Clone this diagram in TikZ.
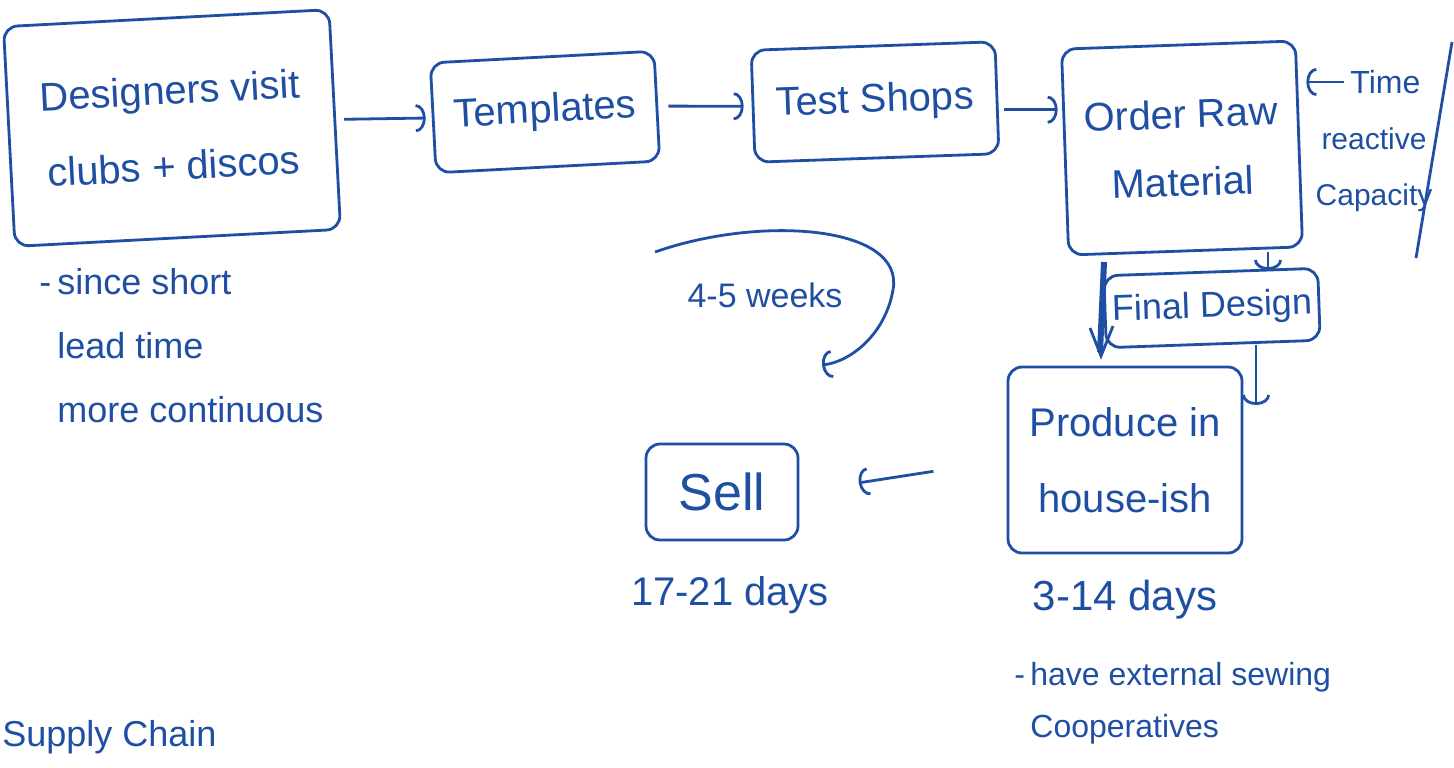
\documentclass[tikz,border=0pt]{standalone}
\usepackage{fontspec}
\setmainfont{Liberation Sans}
\usepackage{tikz}
\usetikzlibrary{positioning, calc, arrows.meta}
\definecolor{InkBlue}{HTML}{1F4FA3}

\begin{document}
\begin{tikzpicture}[x=0.5pt, y=-0.5pt,
  ink/.style={InkBlue, line width=1.4pt},
  stage/.style={ink, draw, rounded corners=7pt, align=center, inner sep=0pt,
    font=\fontsize{20}{38}\selectfont},
  note/.style={InkBlue, align=left, inner sep=0pt, font=\fontsize{18}{32}\selectfont},
  arr/.style={ink, -{Arc Barb[length=5pt, width=14pt]}}]
  \useasboundingbox[fill=white] (0,0) rectangle (1454,767);

  % main flow of stages
  \node[stage, minimum width=163pt, minimum height=110pt, rotate=3] (designers) at (172,128)
    {Designers visit\\clubs + discos};
  \node[stage, minimum width=112pt, minimum height=55pt, rotate=3] (templates) at (545,112) {Templates};
  \node[stage, minimum width=122pt, minimum height=56pt, rotate=2] (testshops) at (875,102) {Test Shops};
  \node[stage, minimum width=117pt, minimum height=103pt, rotate=2,
    font=\fontsize{20}{34}\selectfont] (order) at (1182,148) {Order Raw\\Material};
  \node[stage, minimum width=107pt, minimum height=36pt, rotate=2,
    font=\fontsize{18}{22}\selectfont] (final) at (1212,308) {Final Design};
  \node[stage, minimum width=117pt, minimum height=93pt] (produce) at (1125,460) {Produce in\\house-ish};
  \node[stage, minimum width=76pt, minimum height=48pt, font=\fontsize{26}{30}\selectfont] (sell) at (722,492) {Sell};

  % notes beside the stages
  \node[note, anchor=north west] (leadnote) at (57,268) {\llap{-\,}since short\\lead time\\more continuous};
  \node[note, font=\fontsize{16}{20}\selectfont, anchor=west] (captime) at (1350,82) {Time};
  \node[note, align=center, font=\fontsize{15}{28}\selectfont] (capacity) at (1374,170) {reactive\\Capacity};
  \node[note, font=\fontsize{17}{20}\selectfont] (weeks) at (765,295) {4-5 weeks};
  \node[note, font=\fontsize{21}{24}\selectfont] (proddays) at (1125,600) {3-14 days};
  \node[note, font=\fontsize{16}{26}\selectfont, anchor=north west] (sewing) at (1030,662)
    {\llap{-\,}have external sewing\\Cooperatives};
  \node[note, font=\fontsize{20}{24}\selectfont] (selldays) at (730,595) {17-21 days};
  \node[note, font=\fontsize{18}{22}\selectfont, anchor=west] (title) at (2,737) {Supply Chain};

  % slash after Time
  \draw[ink] (1452,42) -- (1416,258);

  % arrows between stages
  \draw[arr, shorten <=4pt, shorten >=3pt] (designers.east) -- (templates.west);
  \draw[arr, shorten <=5pt, shorten >=4pt] (templates.east) -- (testshops.west);
  \draw[arr, shorten <=3pt, shorten >=3pt] ([yshift=-6pt]testshops.east) -- ([yshift=-6pt]testshops.east -| order.west);
  \draw[arr, shorten <=3pt, shorten >=3pt] (captime.west) -- (captime.west -| order.east);
  \coordinate (finalin) at (1268,270);
  \draw[arr] (order.south -| finalin) -- (finalin);
  \coordinate (prodin) at (1256,405);
  \draw[arr] (final.south -| prodin) -- (prodin);
  \draw[arr, shorten <=37pt, shorten >=30pt] (produce.west) -- (sell.east);

  % lead time loop
  \coordinate (wkstart) at (655,252);
  \coordinate (wkend) at (822,365);
  \draw[arr] (wkstart) .. controls (760,215) and (905,225) .. (893,290)
    .. controls (885,335) and (850,362) .. (wkend);

  % scribbled mark by final design
  \draw[InkBlue, line width=3pt] (1104,262) -- (1100,352);
  \draw[ink] (1090,328) -- (1101,356) -- (1113,326);
\end{tikzpicture}
\end{document}
